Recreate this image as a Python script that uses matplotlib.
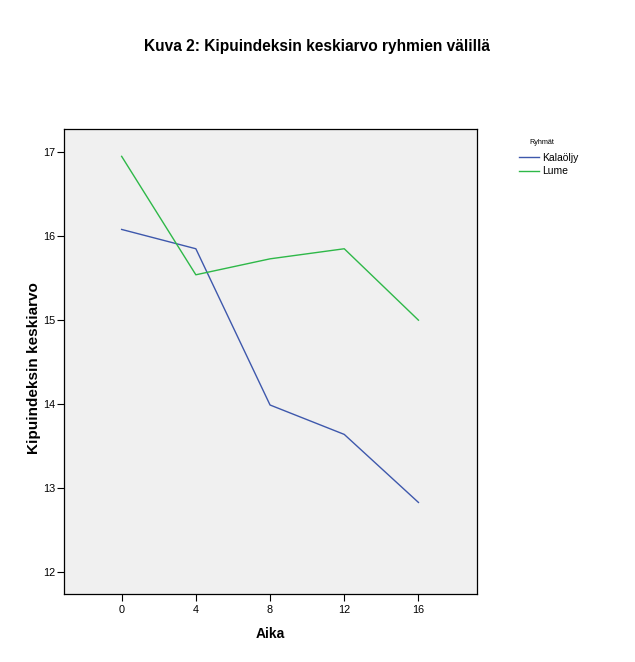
import matplotlib
matplotlib.use("Agg")
import matplotlib.pyplot as plt
from matplotlib.lines import Line2D

plt.rcParams['font.family'] = ['Liberation Sans', 'DejaVu Sans']

aika = [0, 4, 8, 12, 16]
kalaoljy = [16.08, 15.85, 13.99, 13.64, 12.83]
lume = [16.95, 15.54, 15.73, 15.85, 15.00]
x_ticks = [0, 4, 8, 12, 16]
y_ticks = [12, 13, 14, 15, 16, 17]

blue = '#3E58AC'
green = '#2EB848'

W, H = 635, 662
fig = plt.figure(figsize=(6.35, 6.62), dpi=100)
ax = fig.add_axes([0.101, 0.1027, 0.650, 0.703])
ax.set_facecolor('#F0F0F0')

ax.plot(aika, kalaoljy, color=blue, lw=1.0)
ax.plot(aika, lume, color=green, lw=1.0)

ax.set_xlim(-3.1, 19.15)
ax.set_ylim(11.74, 17.28)
ax.set_xticks(x_ticks)
ax.set_yticks(y_ticks)
ax.tick_params(labelsize=7.8, length=5, width=0.8, colors='black', pad=1.5)
ax.tick_params(axis='x', pad=3)
for s in ax.spines.values():
    s.set_linewidth(0.9)

ax.set_xlabel('Aika', fontsize=10, fontweight='bold', labelpad=8.5)
ax.set_ylabel('Kipuindeksin keskiarvo', fontsize=11, fontweight='bold')
ax.yaxis.set_label_coords(-(64.3 - 34) / 412.4, 0.485)
ax.yaxis.label.set_va('center')

fig.text(0.5, 1 - 47 / H, 'Kuva 2: Kipuindeksin keskiarvo ryhmien välillä',
         ha='center', va='center', fontsize=11.2, fontweight='bold')

# legend
fig.text(542 / W, 1 - 142.5 / H, 'Ryhmät', ha='center', va='center', fontsize=5.2)
handles = [Line2D([], [], color=blue, lw=1.0), Line2D([], [], color=green, lw=1.0)]
fig.legend(handles, ['Kalaöljy', 'Lume'],
           loc='upper left', bbox_to_anchor=(517 / W, 1 - 150.5 / H),
           frameon=False, fontsize=7.5,
           handlelength=1.95, handletextpad=0.25, labelspacing=0.35,
           borderpad=0.2, borderaxespad=0)

fig.savefig('out.png', dpi=100)
